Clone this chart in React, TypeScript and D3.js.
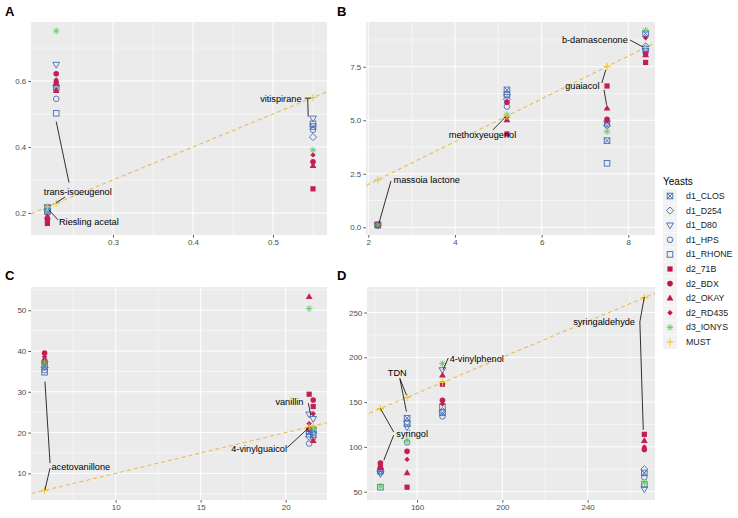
import React, { useEffect, useRef } from 'react'
import * as d3 from 'd3'

type Seg = [number, number, number, number]
interface Lab { text: string; x: number; y: number; segs: Seg[] }

const yeasts = ['d1_CLOS', 'd1_D254', 'd1_D80', 'd1_HPS', 'd1_RHONE', 'd2_71B', 'd2_BDX', 'd2_OKAY', 'd2_RD435', 'd3_IONYS']
const legendItems = [...yeasts, 'MUST']

// panel A
const compoundsA = ['trans-isoeugenol', 'Riesling acetal', 'vitispirane']
const mustA = [0.229, 0.218, 0.55]
const valuesA = [
  [0.58, 0.585, 0.65, 0.546, 0.502, 0.593, 0.622, 0.571, 0.603, 0.752],
  [0.205, 0.21, 0.218, 0.2, 0.215, 0.168, 0.18, 0.19, 0.185, 0.208],
  [0.462, 0.43, 0.487, 0.452, 0.47, 0.273, 0.355, 0.343, 0.376, 0.391],
]
const labelsA: Lab[] = [
  { text: 'trans-isoeugenol', x: 0.256, y: 0.2645, segs: [[0.229, 0.477, 0.245, 0.292], [0.24, 0.248, 0.229, 0.231]] },
  { text: 'Riesling acetal', x: 0.2698, y: 0.1736, segs: [[0.2313, 0.1788, 0.22, 0.2091]] },
  { text: 'vitispirane', x: 0.5098, y: 0.5455, segs: [[0.5397, 0.548, 0.547, 0.548], [0.5434, 0.5475, 0.544, 0.492]] },
]
const xTicksA = [0.3, 0.4, 0.5]
const yTicksA = [0.2, 0.4, 0.6]

// panel B
const compoundsB = ['massoia lactone', 'methoxyeugenol', 'guaiacol', 'b-damascenone']
const mustB = [2.22, 5.2, 7.51, 8.4]
const valuesB = [
  [0.12, 0.1, 0.11, 0.09, 0.1, 0.1, 0.12, 0.08, 0.1, 0.11],
  [6.42, 5.98, 6.1, 5.64, 6.2, 4.36, 5.84, 5.01, 5.15, 5.25],
  [4.05, 4.75, 4.87, 4.8, 2.99, 6.6, 5.05, 5.56, 4.95, 4.47],
  [9.05, 8.45, 8.25, 8.35, 8.3, 7.7, 8.1, 8.05, 8.85, 9.2],
]
const labelsB: Lab[] = [
  { text: 'massoia lactone', x: 3.348, y: 2.21, segs: [[2.524, 2.164, 2.247, 0.2]] },
  { text: 'methoxyeugenol', x: 4.635, y: 4.31, segs: [[4.878, 4.55, 5.17, 5.167]] },
  { text: 'guaiacol', x: 6.94, y: 6.6, segs: [[7.39, 6.74, 7.48, 7.35], [7.44, 6.42, 7.5, 5.72]] },
  { text: 'b-damascenone', x: 7.23, y: 8.78, segs: [[8.04, 8.75, 8.34, 8.42]] },
]
const xTicksB = [2, 4, 6, 8]
const yTicksB = [0, 2.5, 5, 7.5]

// panel C
const compoundsC = ['acetovanillone', 'vanillin', '4-vinylguaicol']
const mustC = [5.82, 21.38, 21.62]
const valuesC = [
  [36.5, 36.0, 37.0, 35.3, 34.8, 37.5, 39.5, 38.0, 38.6, 37.3],
  [20.2, 19.0, 24.5, 17.3, 19.6, 29.4, 20.8, 53.3, 22.2, 50.4],
  [20.6, 20.0, 23.4, 18.8, 19.5, 26.4, 28.0, 18.0, 24.6, 21.0],
]
const labelsC: Lab[] = [
  { text: 'acetovanillone', x: 7.95, y: 11.67, segs: [[6.14, 12.5, 5.84, 32.5], [6.14, 11.28, 5.84, 5.95]] },
  { text: 'vanillin', x: 20.22, y: 27.6, segs: [[21.33, 27.2, 21.47, 24.3]] },
  { text: '4-vinylguaicol', x: 18.44, y: 15.93, segs: [[20.09, 16.3, 21.33, 21.08]] },
]
const xTicksC = [10, 15, 20]
const yTicksC = [10, 20, 30, 40, 50]

// panel D
const compoundsD = ['syringol', 'TDN', '4-vinylphenol', 'syringaldehyde']
const mustD = [142.8, 155.3, 171.9, 266.6]
const valuesD = [
  [73, 74, 70, 71.5, 55, 77, 82, 78, 80, 56],
  [132, 128, 122, 105, 126, 55, 95, 71, 86, 107],
  [138, 140, 186, 134, 145, 170, 152, 180, 148, 193],
  [71, 75, 53, 66, 58, 114, 97, 107, 100, 60],
]
const labelsD: Lab[] = [
  { text: 'syringol', x: 157.7, y: 114.5, segs: [[149, 116.7, 142.8, 142.8], [149, 113, 144.4, 85.1]] },
  { text: 'TDN', x: 150.7, y: 182.8, segs: [[151.9, 176.4, 155, 157.9], [151.9, 176.4, 155, 139.3]] },
  { text: '4-vinylphenol', x: 188, y: 198.9, segs: [[174.6, 199.2, 172.2, 185.9]] },
  { text: 'syringaldehyde', x: 247.7, y: 239.7, segs: [[264.5, 239.7, 266.6, 267.5], [264.5, 239.7, 266.1, 119]] },
]
const xTicksD = [160, 200, 240]
const yTicksD = [50, 100, 150, 200, 250]

const BLUE = '#4068b2'
const RED = '#c3134e'
const GREEN = '#5fc95f'
const YELLOW = '#f2c41c'

const shapeOf: Record<string, { kind: string; color: string }> = {
  d1_CLOS: { kind: 'squareX', color: BLUE },
  d1_D254: { kind: 'diamond', color: BLUE },
  d1_D80: { kind: 'triDown', color: BLUE },
  d1_HPS: { kind: 'circle', color: BLUE },
  d1_RHONE: { kind: 'square', color: BLUE },
  d2_71B: { kind: 'fSquare', color: RED },
  d2_BDX: { kind: 'fCircle', color: RED },
  d2_OKAY: { kind: 'fTri', color: RED },
  d2_RD435: { kind: 'fDiamond', color: RED },
  d3_IONYS: { kind: 'asterisk', color: GREEN },
  MUST: { kind: 'plus', color: YELLOW },
}

const FONT = '"Liberation Sans", Arial, sans-serif'

function addShape(g: any, name: string, cx: number, cy: number) {
  const { kind, color } = shapeOf[name]
  const s = 2.8
  const sw = 0.9
  if (kind === 'squareX' || kind === 'square') {
    g.append('rect').attr('x', cx - s).attr('y', cy - s).attr('width', 2 * s).attr('height', 2 * s)
      .attr('fill', 'none').attr('stroke', color).attr('stroke-width', sw)
    if (kind === 'squareX') {
      g.append('path').attr('d', `M${cx - s},${cy - s}L${cx + s},${cy + s}M${cx - s},${cy + s}L${cx + s},${cy - s}`)
        .attr('stroke', color).attr('stroke-width', sw)
    }
  } else if (kind === 'diamond') {
    const d = 3.6
    g.append('path').attr('d', `M${cx},${cy - d}L${cx + d},${cy}L${cx},${cy + d}L${cx - d},${cy}Z`)
      .attr('fill', 'none').attr('stroke', color).attr('stroke-width', sw)
  } else if (kind === 'triDown') {
    g.append('path').attr('d', `M${cx - 3.4},${cy - 2.2}L${cx + 3.4},${cy - 2.2}L${cx},${cy + 3.6}Z`)
      .attr('fill', 'none').attr('stroke', color).attr('stroke-width', sw)
  } else if (kind === 'circle') {
    g.append('circle').attr('cx', cx).attr('cy', cy).attr('r', 2.8)
      .attr('fill', 'none').attr('stroke', color).attr('stroke-width', sw)
  } else if (kind === 'fSquare') {
    g.append('rect').attr('x', cx - 2.6).attr('y', cy - 2.6).attr('width', 5.2).attr('height', 5.2).attr('fill', color)
  } else if (kind === 'fCircle') {
    g.append('circle').attr('cx', cx).attr('cy', cy).attr('r', 2.8).attr('fill', color)
  } else if (kind === 'fTri') {
    g.append('path').attr('d', `M${cx},${cy - 3.6}L${cx + 3.4},${cy + 2.3}L${cx - 3.4},${cy + 2.3}Z`).attr('fill', color)
  } else if (kind === 'fDiamond') {
    const d = 2.7
    g.append('path').attr('d', `M${cx},${cy - d}L${cx + d},${cy}L${cx},${cy + d}L${cx - d},${cy}Z`).attr('fill', color)
  } else if (kind === 'asterisk') {
    const a = 3.3, b = 2.4
    g.append('path').attr('d', `M${cx - a},${cy}L${cx + a},${cy}M${cx},${cy - a}L${cx},${cy + a}M${cx - b},${cy - b}L${cx + b},${cy + b}M${cx - b},${cy + b}L${cx + b},${cy - b}`)
      .attr('stroke', color).attr('stroke-width', sw)
  } else if (kind === 'plus') {
    const a = 3.6
    g.append('path').attr('d', `M${cx - a},${cy}L${cx + a},${cy}M${cx},${cy - a}L${cx},${cy + a}`)
      .attr('stroke', color).attr('stroke-width', 1)
  }
}

function minors(ticks: number[], lim: number[]) {
  const step = ticks[1] - ticks[0]
  const out: number[] = []
  for (let v = ticks[0] - step / 2; v <= lim[1]; v += step) {
    if (v >= lim[0]) out.push(v)
  }
  return out
}

const panels = [
  { id: 'A', left: 31, right: 327, top: 22, bottom: 235, xLim: [0.1975, 0.5675], yLim: [0.133, 0.779],
    xTicks: xTicksA, yTicks: yTicksA, xFmt: '.1f', yFmt: '.1f', compounds: compoundsA, must: mustA, values: valuesA, labels: labelsA, lx: 5, ly: 16 },
  { id: 'B', left: 366, right: 655, top: 22, bottom: 235, xLim: [1.947, 8.617], yLim: [-0.36, 9.59],
    xTicks: xTicksB, yTicks: yTicksB, xFmt: 'd', yFmt: '.1f', compounds: compoundsB, must: mustB, values: valuesB, labels: labelsB, lx: 337, ly: 16 },
  { id: 'C', left: 31, right: 327, top: 287, bottom: 500, xLim: [5.02, 22.43], yLim: [3.46, 55.7],
    xTicks: xTicksC, yTicks: yTicksC, xFmt: 'd', yFmt: 'd', compounds: compoundsC, must: mustC, values: valuesC, labels: labelsC, lx: 5, ly: 280 },
  { id: 'D', left: 367, right: 655, top: 287, bottom: 500, xLim: [136.5, 271.6], yLim: [40.7, 278.5],
    xTicks: xTicksD, yTicks: yTicksD, xFmt: 'd', yFmt: 'd', compounds: compoundsD, must: mustD, values: valuesD, labels: labelsD, lx: 337, ly: 280 },
]

export default function App() {
  const ref = useRef<SVGSVGElement>(null)

  useEffect(() => {
    const svg = d3.select(ref.current)
    svg.selectAll('*').remove()

    panels.forEach((p) => {
      const x = d3.scaleLinear().domain(p.xLim).range([p.left, p.right])
      const y = d3.scaleLinear().domain(p.yLim).range([p.bottom, p.top])
      const g = svg.append('g')

      // background
      g.append('rect').attr('x', p.left).attr('y', p.top)
        .attr('width', p.right - p.left).attr('height', p.bottom - p.top).attr('fill', '#ebebeb')

      // grid
      minors(p.xTicks, p.xLim).forEach((v) => {
        g.append('line').attr('x1', x(v)).attr('x2', x(v)).attr('y1', p.top).attr('y2', p.bottom)
          .attr('stroke', '#fff').attr('stroke-width', 0.5)
      })
      minors(p.yTicks, p.yLim).forEach((v) => {
        g.append('line').attr('y1', y(v)).attr('y2', y(v)).attr('x1', p.left).attr('x2', p.right)
          .attr('stroke', '#fff').attr('stroke-width', 0.5)
      })
      p.xTicks.forEach((v) => {
        g.append('line').attr('x1', x(v)).attr('x2', x(v)).attr('y1', p.top).attr('y2', p.bottom)
          .attr('stroke', '#fff').attr('stroke-width', 1)
      })
      p.yTicks.forEach((v) => {
        g.append('line').attr('y1', y(v)).attr('y2', y(v)).attr('x1', p.left).attr('x2', p.right)
          .attr('stroke', '#fff').attr('stroke-width', 1)
      })

      // axes
      const xa = g.append('g').attr('transform', `translate(0,${p.bottom})`)
        .call(d3.axisBottom(x).tickValues(p.xTicks).tickSize(2.7).tickPadding(2).tickFormat(d3.format(p.xFmt) as any))
      const ya = g.append('g').attr('transform', `translate(${p.left},0)`)
        .call(d3.axisLeft(y).tickValues(p.yTicks).tickSize(2.7).tickPadding(2).tickFormat(d3.format(p.yFmt) as any))
      ;[xa, ya].forEach((a) => {
        a.select('.domain').remove()
        a.selectAll('line').attr('stroke', '#333').attr('stroke-width', 0.8)
        a.selectAll('text').attr('fill', '#4d4d4d').attr('font-size', 8).attr('font-family', FONT)
      })

      // identity line
      const clipId = 'clip' + p.id
      g.append('clipPath').attr('id', clipId).append('rect')
        .attr('x', p.left).attr('y', p.top).attr('width', p.right - p.left).attr('height', p.bottom - p.top)
      const lo = Math.min(p.xLim[0], p.yLim[0])
      const hi = Math.max(p.xLim[1], p.yLim[1])
      g.append('line').attr('clip-path', `url(#${clipId})`)
        .attr('x1', x(lo)).attr('y1', y(lo)).attr('x2', x(hi)).attr('y2', y(hi))
        .attr('stroke', '#e8b440').attr('stroke-width', 1.1).attr('stroke-dasharray', '4,3').attr('opacity', 0.85)

      // points
      const pts = g.append('g').attr('opacity', 0.95)
      p.compounds.forEach((c, ci) => {
        const mx = p.must[ci]
        yeasts.forEach((yn, yi) => addShape(pts, yn, x(mx), y(p.values[ci][yi])))
        addShape(pts, 'MUST', x(mx), y(mx))
      })

      // repel labels
      p.labels.forEach((l) => {
        l.segs.forEach((s) => {
          g.append('line').attr('x1', x(s[0])).attr('y1', y(s[1])).attr('x2', x(s[2])).attr('y2', y(s[3]))
            .attr('stroke', '#000').attr('stroke-width', 0.8)
        })
        g.append('text').attr('x', x(l.x)).attr('y', y(l.y)).attr('dy', '0.35em')
          .attr('text-anchor', 'middle').attr('font-size', 9.2).attr('font-family', FONT).attr('fill', '#000')
          .text(l.text)
      })

      // panel tag
      svg.append('text').attr('x', p.lx).attr('y', p.ly).attr('font-size', 13).attr('font-weight', 'bold')
        .attr('font-family', FONT).attr('fill', '#000').text(p.id)
    })

    // legend
    const lg = svg.append('g')
    lg.append('text').attr('x', 663).attr('y', 185).attr('font-size', 10).attr('font-family', FONT)
      .attr('fill', '#000').text('Yeasts')
    legendItems.forEach((name, i) => {
      const cy = 196 + i * 14.6
      lg.append('rect').attr('x', 663).attr('y', cy - 7).attr('width', 14).attr('height', 14).attr('fill', '#f2f2f2')
      addShape(lg, name, 670, cy)
      lg.append('text').attr('x', 686).attr('y', cy).attr('dy', '0.35em').attr('font-size', 8.8)
        .attr('font-family', FONT).attr('fill', '#1a1a1a').text(name)
    })
  }, [])

  return (
    <svg ref={ref} width={738} height={518} style={{ position: 'absolute', left: 0, top: 0, background: '#fff' }} />
  )
}
